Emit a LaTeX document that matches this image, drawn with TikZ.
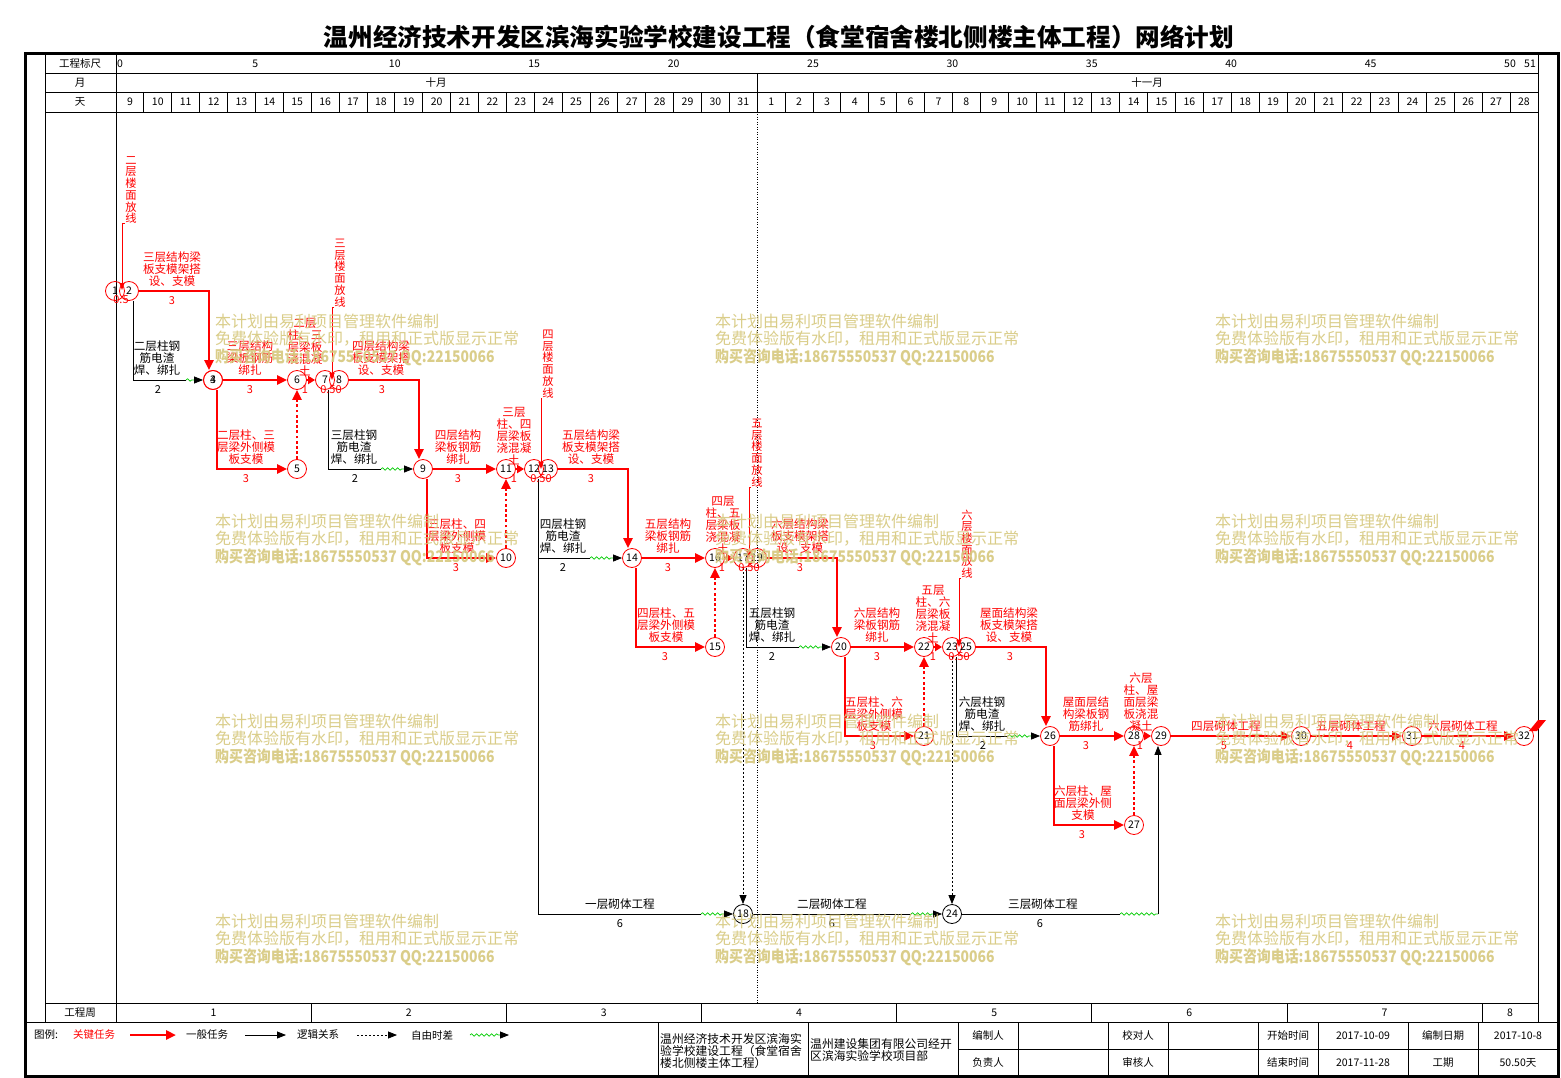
\documentclass[tikz,border=0pt]{standalone}
\usepackage{fontspec}
\setmainfont{Noto Sans CJK SC}
\usetikzlibrary{arrows.meta,decorations.pathmorphing}
\definecolor{cred}{RGB}{255,0,0}
\definecolor{cgreen}{RGB}{0,204,0}
\definecolor{wmc}{RGB}{214,200,125}
\begin{document}
\begin{tikzpicture}[x=1pt,y=-1pt,
  ev/.style={circle,draw=cred,line width=0.8pt,minimum size=19pt,inner sep=0pt,font=\fontsize{10.5}{10}\selectfont},
  evk/.style={ev,draw=black},
  crit/.style={draw=cred,line width=2.8pt,-{Triangle[length=10pt,width=9pt]}},
  critshort/.style={draw=cred,line width=2.8pt,-{Triangle[length=7pt,width=8pt]}},
  critdot/.style={draw=cred,line width=2.8pt,dash pattern=on 2.8pt off 2.4pt,-{Triangle[length=10pt,width=9pt]}},
  norm/.style={draw=black,line width=0.8pt},
  normarr/.style={draw=black,line width=0.8pt,-{Triangle[length=9pt,width=7pt]}},
  wave/.style={draw=cgreen,line width=0.7pt,decorate,decoration={snake,amplitude=1.2pt,segment length=5pt}},
  logic/.style={draw=black,line width=0.8pt,dash pattern=on 2pt off 2pt,-{Triangle[length=9pt,width=7pt]}},
  mline/.style={draw=cred,line width=0.8pt,-{Triangle[length=7pt,width=5pt]}},
  rl/.style={text=cred,align=center,inner sep=0pt,anchor=south,font=\fontsize{11.6}{12}\selectfont},
  bl/.style={rl,text=black},
  rd/.style={text=cred,inner sep=0pt,font=\fontsize{11}{12}\selectfont},
  bd/.style={rd,text=black},
  mt/.style={text=cred,align=center,inner sep=0pt,font=\fontsize{11.3}{11.7}\selectfont},
  hd/.style={inner sep=0pt,font=\fontsize{10.5}{12}\selectfont},
  gline/.style={draw=black,line width=0.8pt},
  wm/.style={text=wmc,anchor=west,inner sep=0pt,opacity=0.9,font=\fontsize{16}{18}\selectfont},
]
\useasboundingbox (0,0) rectangle (1561,1078);
\fill[white] (0,0) rectangle (1561,1078);
% title
\node[inner sep=0pt,font=\fontsize{24.6}{26}\selectfont\bfseries] (title) at (779,37) {温州经济技术开发区滨海实验学校建设工程（食堂宿舍楼北侧楼主体工程）网络计划};
% frame and grid
\draw[line width=3pt] (25,54) rectangle (1558,1076);
\draw[gline] (45,54) -- (45,1022);
\draw[gline] (116,54) -- (116,1022);
\draw[gline] (1538,54) -- (1538,1022);
\foreach \yy in {73,92,112,1003} \draw[gline] (45,\yy) -- (1538,\yy);
\draw[gline] (25,1022) -- (1558,1022);
\draw[gline] (757,73) -- (757,92);
\foreach \i in {1,...,50} \draw[gline] ({116+27.88*\i},92) -- ({116+27.88*\i},112);
\foreach \k in {1,...,7} \draw[gline] ({116+195.16*\k},1003) -- ({116+195.16*\k},1022);
\draw[line width=0.6pt,dash pattern=on 1pt off 1.5pt] (757,112) -- (757,1003);
% header texts
\node[hd] (h1) at (80,63.5) {工程标尺};
\node[hd] (h2) at (80,82.5) {月};
\node[hd] (h3) at (80,102) {天};
\node[hd] (h4) at (80,1012.5) {工程周};
\node[hd] (mo1) at (436,82.5) {十月};
\node[hd] (mo2) at (1147,82.5) {十一月};
\node[hd] (s0) at (120,63.5) {0};
\foreach \v in {5,10,...,50} \node[hd] (s\v) at ({116+27.88*\v},63.5) {\v};
\node[hd] (s51) at (1530,63.5) {51};
\foreach \i in {0,...,50}{\pgfmathtruncatemacro\dd{\i<23 ? \i+9 : \i-22}\node[hd] (d\i) at ({116+27.88*(\i+0.5)},102) {\dd};}
\foreach \k in {1,...,7} \node[hd] (wk\k) at ({116+195.16*(\k-0.5)},1012.5) {\k};
\node[hd] (wk8) at (1510,1012.5) {8};
% legend
\node[hd] (lg0) at (46,1035) {图例:};
\node[hd,text=cred] (lg1) at (94,1035) {关键任务};
\coordinate (la1) at (130,1035); \coordinate (la2) at (176,1035);
\draw[crit] (la1) -- (la2);
\node[hd] (lg2) at (207,1035) {一般任务};
\coordinate (lb1) at (245,1035); \coordinate (lb2) at (286,1035);
\draw[normarr] (lb1) -- (lb2);
\node[hd] (lg3) at (318,1035) {逻辑关系};
\coordinate (lc1) at (357,1035); \coordinate (lc2) at (397,1035);
\draw[logic] (lc1) -- (lc2);
\node[hd] (lg4) at (432,1035) {自由时差};
\coordinate (ld1) at (470,1035); \coordinate (ld2) at (500,1035); \coordinate (ld3) at (509,1035);
\draw[wave] (ld1) -- (ld2);
\draw[normarr] (ld2) -- (ld3);
% info table
\foreach \xx in {658,808,958,1018,1108,1168,1258,1318,1408,1478} \draw[gline] (\xx,1022) -- (\xx,1076);
\draw[gline] (958,1049) -- (1558,1049);
\node[anchor=north west,align=left,inner sep=0pt,font=\fontsize{11.8}{11}\selectfont] (tb1) at (660,1033) {温州经济技术开发区滨海实\\验学校建设工程（食堂宿舍\\楼北侧楼主体工程）};
\node[anchor=north west,align=left,inner sep=0pt,font=\fontsize{11.8}{12}\selectfont] (tb2) at (810,1038) {温州建设集团有限公司经开\\区滨海实验学校项目部};
\node[hd] (tc1) at (988,1035.5) {编制人};
\node[hd] (tc2) at (988,1062.5) {负责人};
\node[hd] (tc3) at (1138,1035.5) {校对人};
\node[hd] (tc4) at (1138,1062.5) {审核人};
\node[hd] (tc5) at (1288,1035.5) {开始时间};
\node[hd] (tc6) at (1288,1062.5) {结束时间};
\node[hd] (tc7) at (1363,1035.5) {2017-10-09};
\node[hd] (tc8) at (1363,1062.5) {2017-11-28};
\node[hd] (tc9) at (1443,1035.5) {编制日期};
\node[hd] (tc10) at (1443,1062.5) {工期};
\node[hd] (tc11) at (1518,1035.5) {2017-10-8};
\node[hd] (tc12) at (1518,1062.5) {50.50天};
% events
\node[ev] (n1) at (115,291) {1};
\node[ev] (n2) at (129,291) {2};
\node[ev] (n3) at (213,380) {3};
\node[ev] (n4) at (213,380) {4};
\node[ev] (n5) at (297,469) {5};
\node[ev] (n6) at (297,380) {6};
\node[ev] (n7) at (325,380) {7};
\node[ev] (n8) at (339,380) {8};
\node[ev] (n9) at (423,469) {9};
\node[ev] (n10) at (506,558) {10};
\node[ev] (n11) at (506,469) {11};
\node[ev] (n12) at (534,469) {12};
\node[ev] (n13) at (548,469) {13};
\node[ev] (n14) at (632,558) {14};
\node[ev] (n15) at (715,647) {15};
\node[ev] (n16) at (715,558) {16};
\node[ev] (n17) at (743,558) {17};
\node[evk] (n18) at (743,914) {18};
\node[ev] (n19) at (757,558) {19};
\node[ev] (n20) at (841,647) {20};
\node[ev] (n21) at (924,736) {21};
\node[ev] (n22) at (924,647) {22};
\node[ev] (n23) at (952,647) {23};
\node[evk] (n24) at (952,914) {24};
\node[ev] (n25) at (966,647) {25};
\node[ev] (n26) at (1050,736) {26};
\node[ev] (n27) at (1134,825) {27};
\node[ev] (n28) at (1134,736) {28};
\node[ev] (n29) at (1161,736) {29};
\node[ev] (n30) at (1301,736) {30};
\node[ev] (n31) at (1412,736) {31};
\node[ev] (n32) at (1524,736) {32};
\fill[cred] (1529,731) -- (1538,720) -- (1546,720) -- (1537,731) -- cycle;
% critical tasks
\draw[crit] (n2) -| ([xshift=-4pt]n3.north);
\draw[crit] (n4) -- (n6);
\draw[crit] ([xshift=4pt]n4.south) |- (n5);
\draw[critdot] (n5) -- (n6);
\draw[critshort] (n6) -- (n7);
\draw[crit] (n8) -| ([xshift=-4pt]n9.north);
\draw[crit] (n9) -- (n11);
\draw[crit] ([xshift=4pt]n9.south) |- (n10);
\draw[critdot] (n10) -- (n11);
\draw[critshort] (n11) -- (n12);
\draw[crit] (n13) -| ([xshift=-4pt]n14.north);
\draw[crit] (n14) -- (n16);
\draw[crit] ([xshift=4pt]n14.south) |- (n15);
\draw[critdot] (n15) -- (n16);
\draw[critshort] (n16) -- (n17);
\draw[crit] (n19) -| ([xshift=-4pt]n20.north);
\draw[crit] (n20) -- (n22);
\draw[crit] ([xshift=4pt]n20.south) |- (n21);
\draw[critdot] (n21) -- (n22);
\draw[critshort] (n22) -- (n23);
\draw[crit] (n25) -| ([xshift=-4pt]n26.north);
\draw[crit] (n26) -- (n28);
\draw[crit] ([xshift=4pt]n26.south) |- (n27);
\draw[critdot] (n27) -- (n28);
\draw[critshort] (n28) -- (n29);
\draw[crit] (n29) -- (n30);
\draw[crit] (n30) -- (n31);
\draw[crit] (n31) -- (n32);
% milestones (floor setting-out)
\node[mt] (m1) at (131,190) {二\\层\\楼\\面\\放\\线};
\node[mt] (m2) at (340,273) {三\\层\\楼\\面\\放\\线};
\node[mt] (m3) at (548,364) {四\\层\\楼\\面\\放\\线};
\node[mt] (m4) at (757,453) {五\\层\\楼\\面\\放\\线};
\node[mt] (m5) at (967,544) {六\\层\\楼\\面\\放\\线};
\coordinate (j1) at (122,290);
\coordinate (j2) at (332,380);
\coordinate (j3) at (541,469);
\coordinate (j4) at (749,558);
\coordinate (j5) at (959,647);
\draw[mline] (m1.south west) -| (j1);
\draw[mline] (m2.south west) -| (j2);
\draw[mline] (m3.south west) -| (j3);
\draw[mline] (m4.south west) -| (j4);
\draw[mline] (m5.south west) -| (j5);
% normal tasks with free float
\coordinate (w1) at (186,380);
\draw[norm] ([xshift=4pt]n2.south) |- (w1);
\draw[wave] (w1) -- ([xshift=-9pt]n4.west);
\draw[normarr] ([xshift=-9pt]n4.west) -- (n4.west);
\coordinate (w2) at (381,469);
\draw[norm] ([xshift=3pt]n7.south) |- (w2);
\draw[wave] (w2) -- ([xshift=-9pt]n9.west);
\draw[normarr] ([xshift=-9pt]n9.west) -- (n9.west);
\coordinate (w3) at (590,558);
\draw[norm] ([xshift=4pt]n12.south) |- (w3);
\draw[wave] (w3) -- ([xshift=-9pt]n14.west);
\draw[normarr] ([xshift=-9pt]n14.west) -- (n14.west);
\coordinate (w4) at (799,647);
\draw[norm] ([xshift=3pt]n17.south) |- (w4);
\draw[wave] (w4) -- ([xshift=-9pt]n20.west);
\draw[normarr] ([xshift=-9pt]n20.west) -- (n20.west);
\coordinate (w5) at (1008,736);
\draw[norm] ([xshift=4pt]n23.south) |- (w5);
\draw[wave] (w5) -- ([xshift=-9pt]n26.west);
\draw[normarr] ([xshift=-9pt]n26.west) -- (n26.west);
\coordinate (w6) at (701,914);
\draw[norm] ([xshift=4pt]n12.south) |- (w6);
\draw[wave] (w6) -- ([xshift=-9pt]n18.west);
\draw[normarr] ([xshift=-9pt]n18.west) -- (n18.west);
\coordinate (w7) at (911,914);
\draw[norm] (n18) -- (w7);
\draw[wave] (w7) -- ([xshift=-9pt]n24.west);
\draw[normarr] ([xshift=-9pt]n24.west) -- (n24.west);
\coordinate (w8) at (1120,914);
\coordinate (c8) at (1158,914);
\draw[norm] (n24) -- (w8);
\draw[wave] (w8) -- (c8);
\draw[normarr] (c8) -- ([xshift=-3pt]n29.south);
% logical links
\draw[logic] (n17) -- (n18);
\draw[logic] (n23) -- (n24);
% task labels
\node[rd] (u0) at (121,300) {0.5};
\node[rl] (t1) at (172,287) {三层结构梁\\板支模架搭\\设、支模};
\node[rd] (u1) at (172,301) {3};
\node[bl] (t2) at (157,376) {二层柱钢\\筋电渣\\焊、绑扎};
\node[bd] (u2) at (158,390) {2};
\node[rl] (t3) at (250,376) {三层结构\\梁板钢筋\\绑扎};
\node[rd] (u3) at (250,390) {3};
\node[rl] (t4) at (305,376) {二层\\柱、三\\层梁板\\浇混凝\\土};
\node[rd] (u4) at (305,390) {1};
\node[rd] (u5) at (331,390) {0.50};
\node[rl] (t6) at (381,376) {四层结构梁\\板支模架搭\\设、支模};
\node[rd] (u6) at (382,390) {3};
\node[rl] (t7) at (246,465) {二层柱、三\\层梁外侧模\\板支模};
\node[rd] (u7) at (246,479) {3};
\node[bl] (t8) at (354,465) {三层柱钢\\筋电渣\\焊、绑扎};
\node[bd] (u8) at (355,479) {2};
\node[rl] (t9) at (458,465) {四层结构\\梁板钢筋\\绑扎};
\node[rd] (u9) at (458,479) {3};
\node[rl] (t10) at (514,465) {三层\\柱、四\\层梁板\\浇混凝\\土};
\node[rd] (u10) at (514,479) {1};
\node[rd] (u11) at (541,479) {0.50};
\node[rl] (t12) at (591,465) {五层结构梁\\板支模架搭\\设、支模};
\node[rd] (u12) at (591,479) {3};
\node[rl] (t13) at (457,554) {三层柱、四\\层梁外侧模\\板支模};
\node[rd] (u13) at (456,568) {3};
\node[bl] (t14) at (563,554) {四层柱钢\\筋电渣\\焊、绑扎};
\node[bd] (u14) at (563,568) {2};
\node[rl] (t15) at (668,554) {五层结构\\梁板钢筋\\绑扎};
\node[rd] (u15) at (668,568) {3};
\node[rl] (t16) at (723,554) {四层\\柱、五\\层梁板\\浇混凝\\土};
\node[rd] (u16) at (722,568) {1};
\node[rd] (u17) at (749,568) {0.50};
\node[rl] (t18) at (800,554) {六层结构梁\\板支模架搭\\设、支模};
\node[rd] (u18) at (800,568) {3};
\node[rl] (t19) at (666,643) {四层柱、五\\层梁外侧模\\板支模};
\node[rd] (u19) at (665,657) {3};
\node[bl] (t20) at (772,643) {五层柱钢\\筋电渣\\焊、绑扎};
\node[bd] (u20) at (772,657) {2};
\node[rl] (t21) at (877,643) {六层结构\\梁板钢筋\\绑扎};
\node[rd] (u21) at (877,657) {3};
\node[rl] (t22) at (933,643) {五层\\柱、六\\层梁板\\浇混凝\\土};
\node[rd] (u22) at (933,657) {1};
\node[rd] (u23) at (959,657) {0.50};
\node[rl] (t24) at (1009,643) {屋面结构梁\\板支模架搭\\设、支模};
\node[rd] (u24) at (1010,657) {3};
\node[rl] (t25) at (874,732) {五层柱、六\\层梁外侧模\\板支模};
\node[rd] (u25) at (873,746) {3};
\node[bl] (t26) at (982,732) {六层柱钢\\筋电渣\\焊、绑扎};
\node[bd] (u26) at (983,746) {2};
\node[rl] (t27) at (1086,732) {屋面层结\\构梁板钢\\筋绑扎};
\node[rd] (u27) at (1086,746) {3};
\node[rl] (t28) at (1141,732) {六层\\柱、屋\\面层梁\\板浇混\\凝土};
\node[rd] (u28) at (1140,746) {1};
\node[rl] (t29) at (1226,732) {四层砌体工程};
\node[rd] (u29) at (1224,746) {5};
\node[rl] (t30) at (1351,732) {五层砌体工程};
\node[rd] (u30) at (1350,746) {4};
\node[rl] (t31) at (1463,732) {六层砌体工程};
\node[rd] (u31) at (1462,746) {4};
\node[rl] (t32) at (1083,821) {六层柱、屋\\面层梁外侧\\支模};
\node[rd] (u32) at (1082,835) {3};
\node[bl] (t33) at (620,910) {一层砌体工程};
\node[bd] (u33) at (620,924) {6};
\node[bl] (t34) at (832,910) {二层砌体工程};
\node[bd] (u34) at (832,924) {6};
\node[bl] (t35) at (1043,910) {三层砌体工程};
\node[bd] (u35) at (1040,924) {6};
% watermarks
\foreach \cx in {215,715,1215} \foreach \cy in {321,521,721,921} {
  \node[wm] (wa-\cx-\cy) at (\cx,\cy) {本计划由易利项目管理软件编制};
  \node[wm] (wb-\cx-\cy) at (\cx,\cy+18) {免费体验版有水印，租用和正式版显示正常};
  \node[wm,font=\fontsize{16}{18}\selectfont\bfseries] (wc-\cx-\cy) at (\cx,\cy+36) {\scalebox{0.87}[1]{购买咨询电话:18675550537 QQ:22150066}};
}
\end{tikzpicture}
\end{document}
